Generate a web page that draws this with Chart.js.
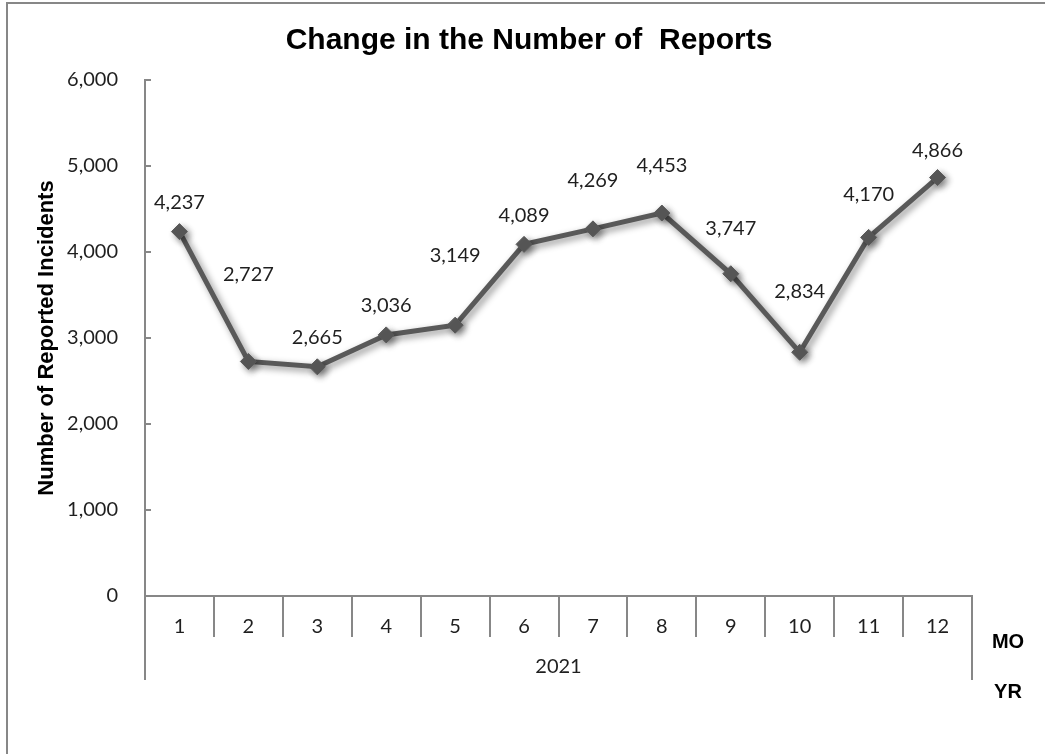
<!DOCTYPE html>
<html>
<head>
<meta charset="utf-8">
<script src="https://cdn.jsdelivr.net/npm/chart.js@4"></script>
<style>
  html, body { margin: 0; padding: 0; background: #fff; }
  #wrap { position: relative; width: 1045px; height: 754px; }
  #frame { position: absolute; left: 6px; top: 2px; right: 0; bottom: 0; border-left: 2px solid #878787; border-top: 2px solid #878787; pointer-events: none; }
  canvas { position: absolute; left: 0; top: 0; }
</style>
</head>
<body>
<div id="wrap">
  <canvas id="c" width="1045" height="754"></canvas>
  <div id="frame"></div>
</div>
<script>
const chartTitle = 'Change in the Number of  Reports';
const yAxisTitle = 'Number of Reported Incidents';
const months = ['1','2','3','4','5','6','7','8','9','10','11','12'];
const yearGroup = '2021';
const monthAxisName = 'MO';
const yearAxisName = 'YR';
const reports = [4237, 2727, 2665, 3036, 3149, 4089, 4269, 4453, 3747, 2834, 4170, 4866];
const yMin = 0;
const yMax = 6000;
const yStep = 1000;
// vertical lift (px) of each value label above its marker, as in the reference
const labelLift = [29, 87, 29, 29, 70, 29, 48, 47, 45, 61, 43, 27];

const AXIS_COLOR = '#878787';
const TEXT_COLOR = '#1f1f1f';
const LINE_COLOR = '#595959';
const LABEL_FONT = { family: 'Lato', size: 20 };

const fmt = v => Number(v).toLocaleString('en-US');

const decorPlugin = {
  id: 'decor',
  beforeDatasetsDraw(chart) {
    const ctx = chart.ctx;
    ctx.save();
    ctx.shadowColor = 'rgba(0,0,0,0.45)';
    ctx.shadowBlur = 7;
    ctx.shadowOffsetX = 3;
    ctx.shadowOffsetY = 3;
  },
  afterDatasetsDraw(chart) {
    const ctx = chart.ctx;
    ctx.restore();
    const meta = chart.getDatasetMeta(0);
    ctx.save();
    ctx.fillStyle = TEXT_COLOR;
    ctx.font = LABEL_FONT.size + 'px ' + LABEL_FONT.family;
    ctx.textAlign = 'center';
    ctx.textBaseline = 'middle';
    meta.data.forEach((pt, i) => {
      ctx.fillText(fmt(reports[i]), pt.x, pt.y - labelLift[i]);
    });
    ctx.restore();
  },
  afterDraw(chart) {
    const ctx = chart.ctx;
    const xs = chart.scales.x;
    const area = chart.chartArea;
    ctx.save();
    // title
    ctx.fillStyle = '#000';
    ctx.font = 'bold 30px "Liberation Sans", Arial, sans-serif';
    ctx.textAlign = 'center';
    ctx.textBaseline = 'middle';
    ctx.fillText(chartTitle, 529, 41);
    // outer group lines
    ctx.strokeStyle = AXIS_COLOR;
    ctx.lineWidth = 2;
    ctx.beginPath();
    ctx.moveTo(xs.left, area.bottom);
    ctx.lineTo(xs.left, area.bottom + 84);
    ctx.moveTo(xs.right, area.bottom);
    ctx.lineTo(xs.right, area.bottom + 84);
    ctx.stroke();
    // year group label
    ctx.fillStyle = TEXT_COLOR;
    ctx.font = LABEL_FONT.size + 'px ' + LABEL_FONT.family;
    ctx.fillText(yearGroup, (xs.left + xs.right) / 2, area.bottom + 71);
    // axis level names
    ctx.fillStyle = '#000';
    ctx.font = 'bold 20px "Liberation Sans", Arial, sans-serif';
    ctx.fillText(monthAxisName, 1008, area.bottom + 46);
    ctx.fillText(yearAxisName, 1008, area.bottom + 96);
    ctx.restore();
  }
};

new Chart(document.getElementById('c'), {
  type: 'line',
  data: {
    labels: months,
    datasets: [{
      data: reports,
      borderColor: LINE_COLOR,
      backgroundColor: LINE_COLOR,
      borderWidth: 5,
      pointStyle: 'rectRot',
      pointRadius: 8,
      pointBackgroundColor: LINE_COLOR,
      pointBorderColor: LINE_COLOR,
      pointBorderWidth: 1,
      tension: 0,
      fill: false
    }]
  },
  options: {
    responsive: false,
    animation: false,
    devicePixelRatio: 1,
    layout: { padding: { left: 0, right: 73, top: 80, bottom: 0 } },
    plugins: {
      legend: { display: false },
      title: { display: false },
      tooltip: { enabled: false }
    },
    scales: {
      x: {
        type: 'category',
        offset: true,
        grid: {
          offset: true,
          drawOnChartArea: false,
          tickLength: 41,
          color: AXIS_COLOR,
          lineWidth: 2
        },
        border: { color: AXIS_COLOR, width: 2 },
        ticks: {
          font: LABEL_FONT,
          color: TEXT_COLOR,
          padding: -22,
          maxRotation: 0,
          autoSkip: false
        },
        afterFit(s) { s.height = 158; }
      },
      y: {
        min: yMin,
        max: yMax,
        ticks: {
          stepSize: yStep,
          callback: v => fmt(v),
          font: LABEL_FONT,
          color: TEXT_COLOR,
          padding: 33
        },
        grid: {
          drawOnChartArea: false,
          tickLength: -6,
          color: AXIS_COLOR,
          lineWidth: 2
        },
        border: { color: AXIS_COLOR, width: 2 },
        title: {
          display: true,
          text: yAxisTitle,
          color: '#000',
          font: { family: '"Liberation Sans", Arial, sans-serif', size: 22, weight: 'bold' },
          padding: { top: 34, bottom: 0 }
        },
        afterFit(s) { s.width = 145; }
      }
    }
  },
  plugins: [decorPlugin]
});
</script>
</body>
</html>
